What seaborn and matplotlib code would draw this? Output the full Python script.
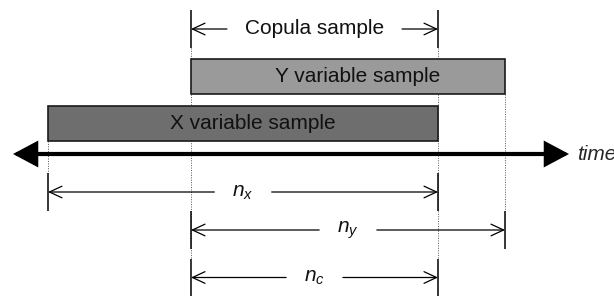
import matplotlib
matplotlib.use("Agg")

import numpy as np
import matplotlib.pyplot as plt
import seaborn as sns
from matplotlib.patches import FancyArrowPatch

# sample windows on the time line (time units = pixel columns of the drawing)
sample_names = ["Y variable sample", "X variable sample"]
sample_start = [191, 48]
sample_end = [505, 438]
sample_colors = ["#9a9a9a", "#6e6e6e"]

# dimension lines (label, start, end)
dim_labels = ["Copula sample", "$n_x$", "$n_y$", "$n_c$"]
dim_start = [191, 48, 191, 191]
dim_end = [438, 438, 505, 438]

time_range = [13, 569]

# layout (rows in pixels from the top)
bar_rows = [76, 123.5]
bar_height = 35
dim_rows = [29, 192, 230, 277.5]
tick_half = 19
time_row = 154
FS = 15

sns.set_theme(style="white")
plt.rcParams["font.family"] = ["Liberation Sans", "DejaVu Sans"]
plt.rcParams["mathtext.fontset"] = "custom"
plt.rcParams["mathtext.it"] = "Liberation Sans:italic"
plt.rcParams["mathtext.rm"] = "Liberation Sans"

fig = plt.figure(figsize=(6.14, 2.96), dpi=100)
ax = fig.add_axes([0, 0, 1, 1])
ax.set_xlim(0, 614)
ax.set_ylim(296, 0)
ax.axis("off")

# bars
ax.barh(
    y=bar_rows,
    width=np.array(sample_end) - np.array(sample_start),
    left=sample_start,
    height=bar_height,
    color=sample_colors,
    edgecolor="#1a1a1a",
    linewidth=1.2,
    zorder=3,
)
for name, s, e, yc in zip(sample_names, sample_start, sample_end, bar_rows):
    ax.annotate(name, xy=((s + e) / 2, yc), xytext=(7, 0),
                textcoords="offset points", ha="center", va="center",
                fontsize=FS, color="#111111", zorder=4)

# dotted guide lines: from the lowest edge of the top element to the top of the lowest tick
spans = {}
for s, e, yc in zip(sample_start, sample_end, bar_rows):
    for x in (s, e):
        spans.setdefault(x, []).append((yc - bar_height / 2, yc + bar_height / 2))
for s, e, yc in zip(dim_start, dim_end, dim_rows):
    for x in (s, e):
        spans.setdefault(x, []).append((yc - tick_half, yc + tick_half))
for x, items in spans.items():
    top = min(b for _, b in items)
    bottom = max(t for t, _ in items)
    ax.plot([x, x], [top, bottom], color="#555555", lw=0.7,
            linestyle=(0, (1, 1.5)), zorder=1)

# time axis
ax.add_patch(FancyArrowPatch(
    (time_range[0], time_row), (time_range[1], time_row),
    arrowstyle="<|-|>,head_length=1.35,head_width=0.72",
    mutation_scale=10, lw=3, color="black", joinstyle="miter",
    shrinkA=0, shrinkB=0, zorder=5))
ax.text(time_range[1] + 8, time_row, "time", fontsize=FS, style="italic",
        ha="left", va="center")

# dimension lines
texts = []
for lab, s, e, yc in zip(dim_labels, dim_start, dim_end, dim_rows):
    t = ax.text((s + e) / 2, yc, lab, fontsize=FS, ha="center", va="center",
                color="#111111")
    texts.append(t)
    ax.vlines([s, e], yc - tick_half, yc + tick_half, color="black", lw=1.1, zorder=3)

fig.canvas.draw()
inv = ax.transData.inverted()
pad = 18
for t, s, e, yc in zip(texts, dim_start, dim_end, dim_rows):
    bb = t.get_window_extent()
    x0 = inv.transform((bb.x0, bb.y0))[0] - pad
    x1 = inv.transform((bb.x1, bb.y0))[0] + pad
    for a, b in ((x0, s), (x1, e)):
        ax.add_patch(FancyArrowPatch(
            (a, yc), (b, yc),
            arrowstyle="->,head_length=0.9,head_width=0.42",
            mutation_scale=10, lw=0.9, color="black",
            shrinkA=0, shrinkB=0, zorder=3))

fig.savefig("out.png", dpi=100)
